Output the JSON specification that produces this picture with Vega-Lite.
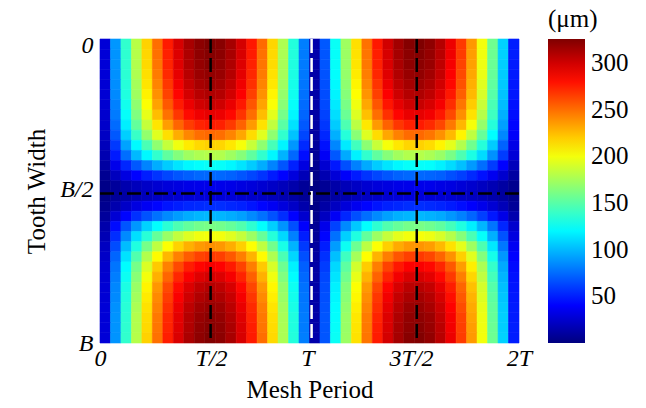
{"$schema":"https://vega.github.io/schema/vega-lite/v6.json","width":419,"height":304,"autosize":{"type":"none"},"padding":{"left":100,"top":39,"right":127,"bottom":65},"background":"white","config":{"font":"Liberation Serif","view":{"stroke":null},"legend":{"labelFont":"Liberation Serif","titleFont":"Liberation Serif"},"axis":{"labelFont":"Liberation Serif","titleFont":"Liberation Serif"}},
"layer":[
{"data":{"values":[
{"c":0,"r":0,"v":28},{"c":1,"r":0,"v":89},{"c":2,"r":0,"v":138},{"c":3,"r":0,"v":181},{"c":4,"r":0,"v":218},{"c":5,"r":0,"v":250},{"c":6,"r":0,"v":277},{"c":7,"r":0,"v":298},{"c":8,"r":0,"v":313},{"c":9,"r":0,"v":322},{"c":10,"r":0,"v":326},{"c":11,"r":0,"v":323},{"c":12,"r":0,"v":314},{"c":13,"r":0,"v":299},{"c":14,"r":0,"v":278},{"c":15,"r":0,"v":251},{"c":16,"r":0,"v":217},{"c":17,"r":0,"v":178},{"c":18,"r":0,"v":133},{"c":19,"r":0,"v":81},{"c":20,"r":0,"v":14},{"c":21,"r":0,"v":69},{"c":22,"r":0,"v":125},{"c":23,"r":0,"v":173},{"c":24,"r":0,"v":214},{"c":25,"r":0,"v":249},{"c":26,"r":0,"v":278},{"c":27,"r":0,"v":300},{"c":28,"r":0,"v":315},{"c":29,"r":0,"v":324},{"c":30,"r":0,"v":326},{"c":31,"r":0,"v":321},{"c":32,"r":0,"v":309},{"c":33,"r":0,"v":291},{"c":34,"r":0,"v":267},{"c":35,"r":0,"v":237},{"c":36,"r":0,"v":200},{"c":37,"r":0,"v":158},{"c":38,"r":0,"v":108},{"c":39,"r":0,"v":50},
{"c":0,"r":1,"v":28},{"c":1,"r":1,"v":88},{"c":2,"r":1,"v":137},{"c":3,"r":1,"v":180},{"c":4,"r":1,"v":217},{"c":5,"r":1,"v":249},{"c":6,"r":1,"v":275},{"c":7,"r":1,"v":296},{"c":8,"r":1,"v":311},{"c":9,"r":1,"v":321},{"c":10,"r":1,"v":324},{"c":11,"r":1,"v":322},{"c":12,"r":1,"v":313},{"c":13,"r":1,"v":298},{"c":14,"r":1,"v":277},{"c":15,"r":1,"v":249},{"c":16,"r":1,"v":216},{"c":17,"r":1,"v":177},{"c":18,"r":1,"v":133},{"c":19,"r":1,"v":80},{"c":20,"r":1,"v":14},{"c":21,"r":1,"v":68},{"c":22,"r":1,"v":124},{"c":23,"r":1,"v":172},{"c":24,"r":1,"v":213},{"c":25,"r":1,"v":248},{"c":26,"r":1,"v":276},{"c":27,"r":1,"v":298},{"c":28,"r":1,"v":314},{"c":29,"r":1,"v":322},{"c":30,"r":1,"v":324},{"c":31,"r":1,"v":319},{"c":32,"r":1,"v":308},{"c":33,"r":1,"v":290},{"c":34,"r":1,"v":266},{"c":35,"r":1,"v":235},{"c":36,"r":1,"v":199},{"c":37,"r":1,"v":157},{"c":38,"r":1,"v":108},{"c":39,"r":1,"v":50},
{"c":0,"r":2,"v":28},{"c":1,"r":2,"v":88},{"c":2,"r":2,"v":137},{"c":3,"r":2,"v":179},{"c":4,"r":2,"v":216},{"c":5,"r":2,"v":248},{"c":6,"r":2,"v":274},{"c":7,"r":2,"v":295},{"c":8,"r":2,"v":310},{"c":9,"r":2,"v":319},{"c":10,"r":2,"v":323},{"c":11,"r":2,"v":320},{"c":12,"r":2,"v":311},{"c":13,"r":2,"v":296},{"c":14,"r":2,"v":275},{"c":15,"r":2,"v":248},{"c":16,"r":2,"v":215},{"c":17,"r":2,"v":176},{"c":18,"r":2,"v":132},{"c":19,"r":2,"v":80},{"c":20,"r":2,"v":13},{"c":21,"r":2,"v":68},{"c":22,"r":2,"v":124},{"c":23,"r":2,"v":171},{"c":24,"r":2,"v":212},{"c":25,"r":2,"v":247},{"c":26,"r":2,"v":275},{"c":27,"r":2,"v":297},{"c":28,"r":2,"v":312},{"c":29,"r":2,"v":321},{"c":30,"r":2,"v":322},{"c":31,"r":2,"v":318},{"c":32,"r":2,"v":306},{"c":33,"r":2,"v":288},{"c":34,"r":2,"v":264},{"c":35,"r":2,"v":234},{"c":36,"r":2,"v":198},{"c":37,"r":2,"v":156},{"c":38,"r":2,"v":107},{"c":39,"r":2,"v":49},
{"c":0,"r":3,"v":28},{"c":1,"r":3,"v":87},{"c":2,"r":3,"v":136},{"c":3,"r":3,"v":178},{"c":4,"r":3,"v":214},{"c":5,"r":3,"v":246},{"c":6,"r":3,"v":272},{"c":7,"r":3,"v":293},{"c":8,"r":3,"v":308},{"c":9,"r":3,"v":317},{"c":10,"r":3,"v":320},{"c":11,"r":3,"v":318},{"c":12,"r":3,"v":309},{"c":13,"r":3,"v":294},{"c":14,"r":3,"v":273},{"c":15,"r":3,"v":246},{"c":16,"r":3,"v":213},{"c":17,"r":3,"v":175},{"c":18,"r":3,"v":131},{"c":19,"r":3,"v":79},{"c":20,"r":3,"v":13},{"c":21,"r":3,"v":67},{"c":22,"r":3,"v":123},{"c":23,"r":3,"v":170},{"c":24,"r":3,"v":210},{"c":25,"r":3,"v":245},{"c":26,"r":3,"v":273},{"c":27,"r":3,"v":295},{"c":28,"r":3,"v":310},{"c":29,"r":3,"v":318},{"c":30,"r":3,"v":320},{"c":31,"r":3,"v":315},{"c":32,"r":3,"v":304},{"c":33,"r":3,"v":286},{"c":34,"r":3,"v":262},{"c":35,"r":3,"v":232},{"c":36,"r":3,"v":197},{"c":37,"r":3,"v":155},{"c":38,"r":3,"v":106},{"c":39,"r":3,"v":49},
{"c":0,"r":4,"v":27},{"c":1,"r":4,"v":86},{"c":2,"r":4,"v":134},{"c":3,"r":4,"v":175},{"c":4,"r":4,"v":212},{"c":5,"r":4,"v":243},{"c":6,"r":4,"v":268},{"c":7,"r":4,"v":289},{"c":8,"r":4,"v":304},{"c":9,"r":4,"v":313},{"c":10,"r":4,"v":316},{"c":11,"r":4,"v":314},{"c":12,"r":4,"v":305},{"c":13,"r":4,"v":290},{"c":14,"r":4,"v":270},{"c":15,"r":4,"v":243},{"c":16,"r":4,"v":211},{"c":17,"r":4,"v":173},{"c":18,"r":4,"v":129},{"c":19,"r":4,"v":78},{"c":20,"r":4,"v":13},{"c":21,"r":4,"v":66},{"c":22,"r":4,"v":121},{"c":23,"r":4,"v":168},{"c":24,"r":4,"v":207},{"c":25,"r":4,"v":242},{"c":26,"r":4,"v":269},{"c":27,"r":4,"v":291},{"c":28,"r":4,"v":306},{"c":29,"r":4,"v":314},{"c":30,"r":4,"v":316},{"c":31,"r":4,"v":311},{"c":32,"r":4,"v":300},{"c":33,"r":4,"v":283},{"c":34,"r":4,"v":259},{"c":35,"r":4,"v":229},{"c":36,"r":4,"v":194},{"c":37,"r":4,"v":153},{"c":38,"r":4,"v":105},{"c":39,"r":4,"v":48},
{"c":0,"r":5,"v":27},{"c":1,"r":5,"v":85},{"c":2,"r":5,"v":132},{"c":3,"r":5,"v":173},{"c":4,"r":5,"v":208},{"c":5,"r":5,"v":239},{"c":6,"r":5,"v":264},{"c":7,"r":5,"v":284},{"c":8,"r":5,"v":299},{"c":9,"r":5,"v":308},{"c":10,"r":5,"v":311},{"c":11,"r":5,"v":309},{"c":12,"r":5,"v":300},{"c":13,"r":5,"v":286},{"c":14,"r":5,"v":265},{"c":15,"r":5,"v":239},{"c":16,"r":5,"v":207},{"c":17,"r":5,"v":170},{"c":18,"r":5,"v":127},{"c":19,"r":5,"v":77},{"c":20,"r":5,"v":13},{"c":21,"r":5,"v":65},{"c":22,"r":5,"v":119},{"c":23,"r":5,"v":165},{"c":24,"r":5,"v":204},{"c":25,"r":5,"v":238},{"c":26,"r":5,"v":265},{"c":27,"r":5,"v":286},{"c":28,"r":5,"v":301},{"c":29,"r":5,"v":309},{"c":30,"r":5,"v":311},{"c":31,"r":5,"v":306},{"c":32,"r":5,"v":295},{"c":33,"r":5,"v":278},{"c":34,"r":5,"v":255},{"c":35,"r":5,"v":226},{"c":36,"r":5,"v":191},{"c":37,"r":5,"v":150},{"c":38,"r":5,"v":103},{"c":39,"r":5,"v":48},
{"c":0,"r":6,"v":26},{"c":1,"r":6,"v":82},{"c":2,"r":6,"v":128},{"c":3,"r":6,"v":168},{"c":4,"r":6,"v":203},{"c":5,"r":6,"v":233},{"c":6,"r":6,"v":257},{"c":7,"r":6,"v":277},{"c":8,"r":6,"v":291},{"c":9,"r":6,"v":300},{"c":10,"r":6,"v":303},{"c":11,"r":6,"v":301},{"c":12,"r":6,"v":292},{"c":13,"r":6,"v":278},{"c":14,"r":6,"v":258},{"c":15,"r":6,"v":233},{"c":16,"r":6,"v":202},{"c":17,"r":6,"v":166},{"c":18,"r":6,"v":124},{"c":19,"r":6,"v":75},{"c":20,"r":6,"v":13},{"c":21,"r":6,"v":64},{"c":22,"r":6,"v":116},{"c":23,"r":6,"v":161},{"c":24,"r":6,"v":199},{"c":25,"r":6,"v":232},{"c":26,"r":6,"v":258},{"c":27,"r":6,"v":279},{"c":28,"r":6,"v":293},{"c":29,"r":6,"v":301},{"c":30,"r":6,"v":303},{"c":31,"r":6,"v":298},{"c":32,"r":6,"v":288},{"c":33,"r":6,"v":271},{"c":34,"r":6,"v":248},{"c":35,"r":6,"v":220},{"c":36,"r":6,"v":186},{"c":37,"r":6,"v":146},{"c":38,"r":6,"v":101},{"c":39,"r":6,"v":46},
{"c":0,"r":7,"v":25},{"c":1,"r":7,"v":80},{"c":2,"r":7,"v":124},{"c":3,"r":7,"v":163},{"c":4,"r":7,"v":196},{"c":5,"r":7,"v":225},{"c":6,"r":7,"v":249},{"c":7,"r":7,"v":268},{"c":8,"r":7,"v":282},{"c":9,"r":7,"v":290},{"c":10,"r":7,"v":293},{"c":11,"r":7,"v":291},{"c":12,"r":7,"v":283},{"c":13,"r":7,"v":269},{"c":14,"r":7,"v":250},{"c":15,"r":7,"v":225},{"c":16,"r":7,"v":195},{"c":17,"r":7,"v":160},{"c":18,"r":7,"v":120},{"c":19,"r":7,"v":73},{"c":20,"r":7,"v":12},{"c":21,"r":7,"v":62},{"c":22,"r":7,"v":112},{"c":23,"r":7,"v":156},{"c":24,"r":7,"v":193},{"c":25,"r":7,"v":224},{"c":26,"r":7,"v":250},{"c":27,"r":7,"v":270},{"c":28,"r":7,"v":284},{"c":29,"r":7,"v":292},{"c":30,"r":7,"v":293},{"c":31,"r":7,"v":289},{"c":32,"r":7,"v":278},{"c":33,"r":7,"v":262},{"c":34,"r":7,"v":240},{"c":35,"r":7,"v":213},{"c":36,"r":7,"v":180},{"c":37,"r":7,"v":142},{"c":38,"r":7,"v":97},{"c":39,"r":7,"v":45},
{"c":0,"r":8,"v":24},{"c":1,"r":8,"v":75},{"c":2,"r":8,"v":117},{"c":3,"r":8,"v":154},{"c":4,"r":8,"v":185},{"c":5,"r":8,"v":212},{"c":6,"r":8,"v":235},{"c":7,"r":8,"v":253},{"c":8,"r":8,"v":266},{"c":9,"r":8,"v":274},{"c":10,"r":8,"v":277},{"c":11,"r":8,"v":275},{"c":12,"r":8,"v":267},{"c":13,"r":8,"v":254},{"c":14,"r":8,"v":236},{"c":15,"r":8,"v":213},{"c":16,"r":8,"v":184},{"c":17,"r":8,"v":151},{"c":18,"r":8,"v":113},{"c":19,"r":8,"v":69},{"c":20,"r":8,"v":12},{"c":21,"r":8,"v":58},{"c":22,"r":8,"v":106},{"c":23,"r":8,"v":147},{"c":24,"r":8,"v":182},{"c":25,"r":8,"v":211},{"c":26,"r":8,"v":236},{"c":27,"r":8,"v":254},{"c":28,"r":8,"v":268},{"c":29,"r":8,"v":275},{"c":30,"r":8,"v":277},{"c":31,"r":8,"v":272},{"c":32,"r":8,"v":263},{"c":33,"r":8,"v":247},{"c":34,"r":8,"v":227},{"c":35,"r":8,"v":201},{"c":36,"r":8,"v":170},{"c":37,"r":8,"v":134},{"c":38,"r":8,"v":92},{"c":39,"r":8,"v":42},
{"c":0,"r":9,"v":22},{"c":1,"r":9,"v":69},{"c":2,"r":9,"v":107},{"c":3,"r":9,"v":140},{"c":4,"r":9,"v":169},{"c":5,"r":9,"v":194},{"c":6,"r":9,"v":214},{"c":7,"r":9,"v":230},{"c":8,"r":9,"v":242},{"c":9,"r":9,"v":250},{"c":10,"r":9,"v":252},{"c":11,"r":9,"v":250},{"c":12,"r":9,"v":243},{"c":13,"r":9,"v":232},{"c":14,"r":9,"v":215},{"c":15,"r":9,"v":194},{"c":16,"r":9,"v":168},{"c":17,"r":9,"v":138},{"c":18,"r":9,"v":103},{"c":19,"r":9,"v":63},{"c":20,"r":9,"v":11},{"c":21,"r":9,"v":53},{"c":22,"r":9,"v":97},{"c":23,"r":9,"v":134},{"c":24,"r":9,"v":166},{"c":25,"r":9,"v":193},{"c":26,"r":9,"v":215},{"c":27,"r":9,"v":232},{"c":28,"r":9,"v":244},{"c":29,"r":9,"v":251},{"c":30,"r":9,"v":252},{"c":31,"r":9,"v":248},{"c":32,"r":9,"v":239},{"c":33,"r":9,"v":226},{"c":34,"r":9,"v":207},{"c":35,"r":9,"v":183},{"c":36,"r":9,"v":155},{"c":37,"r":9,"v":122},{"c":38,"r":9,"v":84},{"c":39,"r":9,"v":39},
{"c":0,"r":10,"v":19},{"c":1,"r":10,"v":59},{"c":2,"r":10,"v":93},{"c":3,"r":10,"v":121},{"c":4,"r":10,"v":146},{"c":5,"r":10,"v":168},{"c":6,"r":10,"v":185},{"c":7,"r":10,"v":199},{"c":8,"r":10,"v":210},{"c":9,"r":10,"v":216},{"c":10,"r":10,"v":218},{"c":11,"r":10,"v":217},{"c":12,"r":10,"v":211},{"c":13,"r":10,"v":201},{"c":14,"r":10,"v":186},{"c":15,"r":10,"v":168},{"c":16,"r":10,"v":145},{"c":17,"r":10,"v":119},{"c":18,"r":10,"v":89},{"c":19,"r":10,"v":54},{"c":20,"r":10,"v":9},{"c":21,"r":10,"v":46},{"c":22,"r":10,"v":84},{"c":23,"r":10,"v":116},{"c":24,"r":10,"v":143},{"c":25,"r":10,"v":167},{"c":26,"r":10,"v":186},{"c":27,"r":10,"v":201},{"c":28,"r":10,"v":211},{"c":29,"r":10,"v":217},{"c":30,"r":10,"v":218},{"c":31,"r":10,"v":215},{"c":32,"r":10,"v":207},{"c":33,"r":10,"v":195},{"c":34,"r":10,"v":179},{"c":35,"r":10,"v":158},{"c":36,"r":10,"v":134},{"c":37,"r":10,"v":106},{"c":38,"r":10,"v":72},{"c":39,"r":10,"v":33},
{"c":0,"r":11,"v":16},{"c":1,"r":11,"v":49},{"c":2,"r":11,"v":76},{"c":3,"r":11,"v":100},{"c":4,"r":11,"v":120},{"c":5,"r":11,"v":138},{"c":6,"r":11,"v":153},{"c":7,"r":11,"v":164},{"c":8,"r":11,"v":173},{"c":9,"r":11,"v":178},{"c":10,"r":11,"v":180},{"c":11,"r":11,"v":179},{"c":12,"r":11,"v":173},{"c":13,"r":11,"v":165},{"c":14,"r":11,"v":153},{"c":15,"r":11,"v":138},{"c":16,"r":11,"v":120},{"c":17,"r":11,"v":98},{"c":18,"r":11,"v":74},{"c":19,"r":11,"v":45},{"c":20,"r":11,"v":8},{"c":21,"r":11,"v":38},{"c":22,"r":11,"v":69},{"c":23,"r":11,"v":95},{"c":24,"r":11,"v":118},{"c":25,"r":11,"v":138},{"c":26,"r":11,"v":153},{"c":27,"r":11,"v":165},{"c":28,"r":11,"v":174},{"c":29,"r":11,"v":179},{"c":30,"r":11,"v":180},{"c":31,"r":11,"v":177},{"c":32,"r":11,"v":171},{"c":33,"r":11,"v":161},{"c":34,"r":11,"v":147},{"c":35,"r":11,"v":131},{"c":36,"r":11,"v":111},{"c":37,"r":11,"v":87},{"c":38,"r":11,"v":60},{"c":39,"r":11,"v":28},
{"c":0,"r":12,"v":11},{"c":1,"r":12,"v":34},{"c":2,"r":12,"v":53},{"c":3,"r":12,"v":69},{"c":4,"r":12,"v":83},{"c":5,"r":12,"v":96},{"c":6,"r":12,"v":106},{"c":7,"r":12,"v":114},{"c":8,"r":12,"v":120},{"c":9,"r":12,"v":123},{"c":10,"r":12,"v":125},{"c":11,"r":12,"v":124},{"c":12,"r":12,"v":120},{"c":13,"r":12,"v":114},{"c":14,"r":12,"v":106},{"c":15,"r":12,"v":96},{"c":16,"r":12,"v":83},{"c":17,"r":12,"v":68},{"c":18,"r":12,"v":51},{"c":19,"r":12,"v":31},{"c":20,"r":12,"v":5},{"c":21,"r":12,"v":26},{"c":22,"r":12,"v":48},{"c":23,"r":12,"v":66},{"c":24,"r":12,"v":82},{"c":25,"r":12,"v":95},{"c":26,"r":12,"v":106},{"c":27,"r":12,"v":114},{"c":28,"r":12,"v":120},{"c":29,"r":12,"v":124},{"c":30,"r":12,"v":124},{"c":31,"r":12,"v":123},{"c":32,"r":12,"v":118},{"c":33,"r":12,"v":111},{"c":34,"r":12,"v":102},{"c":35,"r":12,"v":90},{"c":36,"r":12,"v":76},{"c":37,"r":12,"v":60},{"c":38,"r":12,"v":41},{"c":39,"r":12,"v":19},
{"c":0,"r":13,"v":6},{"c":1,"r":13,"v":20},{"c":2,"r":13,"v":31},{"c":3,"r":13,"v":41},{"c":4,"r":13,"v":50},{"c":5,"r":13,"v":57},{"c":6,"r":13,"v":63},{"c":7,"r":13,"v":68},{"c":8,"r":13,"v":71},{"c":9,"r":13,"v":74},{"c":10,"r":13,"v":74},{"c":11,"r":13,"v":74},{"c":12,"r":13,"v":72},{"c":13,"r":13,"v":68},{"c":14,"r":13,"v":63},{"c":15,"r":13,"v":57},{"c":16,"r":13,"v":49},{"c":17,"r":13,"v":41},{"c":18,"r":13,"v":30},{"c":19,"r":13,"v":18},{"c":20,"r":13,"v":3},{"c":21,"r":13,"v":16},{"c":22,"r":13,"v":28},{"c":23,"r":13,"v":39},{"c":24,"r":13,"v":49},{"c":25,"r":13,"v":57},{"c":26,"r":13,"v":63},{"c":27,"r":13,"v":68},{"c":28,"r":13,"v":72},{"c":29,"r":13,"v":74},{"c":30,"r":13,"v":74},{"c":31,"r":13,"v":73},{"c":32,"r":13,"v":71},{"c":33,"r":13,"v":66},{"c":34,"r":13,"v":61},{"c":35,"r":13,"v":54},{"c":36,"r":13,"v":46},{"c":37,"r":13,"v":36},{"c":38,"r":13,"v":25},{"c":39,"r":13,"v":11},
{"c":0,"r":14,"v":3},{"c":1,"r":14,"v":9},{"c":2,"r":14,"v":15},{"c":3,"r":14,"v":19},{"c":4,"r":14,"v":23},{"c":5,"r":14,"v":26},{"c":6,"r":14,"v":29},{"c":7,"r":14,"v":31},{"c":8,"r":14,"v":33},{"c":9,"r":14,"v":34},{"c":10,"r":14,"v":34},{"c":11,"r":14,"v":34},{"c":12,"r":14,"v":33},{"c":13,"r":14,"v":31},{"c":14,"r":14,"v":29},{"c":15,"r":14,"v":26},{"c":16,"r":14,"v":23},{"c":17,"r":14,"v":19},{"c":18,"r":14,"v":14},{"c":19,"r":14,"v":8},{"c":20,"r":14,"v":1},{"c":21,"r":14,"v":7},{"c":22,"r":14,"v":13},{"c":23,"r":14,"v":18},{"c":24,"r":14,"v":22},{"c":25,"r":14,"v":26},{"c":26,"r":14,"v":29},{"c":27,"r":14,"v":31},{"c":28,"r":14,"v":33},{"c":29,"r":14,"v":34},{"c":30,"r":14,"v":34},{"c":31,"r":14,"v":34},{"c":32,"r":14,"v":32},{"c":33,"r":14,"v":31},{"c":34,"r":14,"v":28},{"c":35,"r":14,"v":25},{"c":36,"r":14,"v":21},{"c":37,"r":14,"v":17},{"c":38,"r":14,"v":11},{"c":39,"r":14,"v":5},
{"c":0,"r":15,"v":2},{"c":1,"r":15,"v":8},{"c":2,"r":15,"v":12},{"c":3,"r":15,"v":16},{"c":4,"r":15,"v":19},{"c":5,"r":15,"v":22},{"c":6,"r":15,"v":24},{"c":7,"r":15,"v":26},{"c":8,"r":15,"v":28},{"c":9,"r":15,"v":28},{"c":10,"r":15,"v":29},{"c":11,"r":15,"v":28},{"c":12,"r":15,"v":28},{"c":13,"r":15,"v":26},{"c":14,"r":15,"v":24},{"c":15,"r":15,"v":22},{"c":16,"r":15,"v":19},{"c":17,"r":15,"v":16},{"c":18,"r":15,"v":12},{"c":19,"r":15,"v":7},{"c":20,"r":15,"v":1},{"c":21,"r":15,"v":6},{"c":22,"r":15,"v":11},{"c":23,"r":15,"v":15},{"c":24,"r":15,"v":19},{"c":25,"r":15,"v":22},{"c":26,"r":15,"v":24},{"c":27,"r":15,"v":26},{"c":28,"r":15,"v":28},{"c":29,"r":15,"v":29},{"c":30,"r":15,"v":29},{"c":31,"r":15,"v":28},{"c":32,"r":15,"v":27},{"c":33,"r":15,"v":26},{"c":34,"r":15,"v":23},{"c":35,"r":15,"v":21},{"c":36,"r":15,"v":18},{"c":37,"r":15,"v":14},{"c":38,"r":15,"v":10},{"c":39,"r":15,"v":4},
{"c":0,"r":16,"v":5},{"c":1,"r":16,"v":15},{"c":2,"r":16,"v":23},{"c":3,"r":16,"v":31},{"c":4,"r":16,"v":37},{"c":5,"r":16,"v":42},{"c":6,"r":16,"v":47},{"c":7,"r":16,"v":50},{"c":8,"r":16,"v":53},{"c":9,"r":16,"v":54},{"c":10,"r":16,"v":55},{"c":11,"r":16,"v":55},{"c":12,"r":16,"v":53},{"c":13,"r":16,"v":51},{"c":14,"r":16,"v":47},{"c":15,"r":16,"v":42},{"c":16,"r":16,"v":37},{"c":17,"r":16,"v":30},{"c":18,"r":16,"v":23},{"c":19,"r":16,"v":14},{"c":20,"r":16,"v":2},{"c":21,"r":16,"v":12},{"c":22,"r":16,"v":21},{"c":23,"r":16,"v":29},{"c":24,"r":16,"v":36},{"c":25,"r":16,"v":42},{"c":26,"r":16,"v":47},{"c":27,"r":16,"v":51},{"c":28,"r":16,"v":53},{"c":29,"r":16,"v":55},{"c":30,"r":16,"v":55},{"c":31,"r":16,"v":54},{"c":32,"r":16,"v":52},{"c":33,"r":16,"v":49},{"c":34,"r":16,"v":45},{"c":35,"r":16,"v":40},{"c":36,"r":16,"v":34},{"c":37,"r":16,"v":27},{"c":38,"r":16,"v":18},{"c":39,"r":16,"v":8},
{"c":0,"r":17,"v":9},{"c":1,"r":17,"v":27},{"c":2,"r":17,"v":42},{"c":3,"r":17,"v":56},{"c":4,"r":17,"v":67},{"c":5,"r":17,"v":77},{"c":6,"r":17,"v":85},{"c":7,"r":17,"v":91},{"c":8,"r":17,"v":96},{"c":9,"r":17,"v":99},{"c":10,"r":17,"v":100},{"c":11,"r":17,"v":99},{"c":12,"r":17,"v":96},{"c":13,"r":17,"v":92},{"c":14,"r":17,"v":85},{"c":15,"r":17,"v":77},{"c":16,"r":17,"v":67},{"c":17,"r":17,"v":55},{"c":18,"r":17,"v":41},{"c":19,"r":17,"v":25},{"c":20,"r":17,"v":4},{"c":21,"r":17,"v":21},{"c":22,"r":17,"v":38},{"c":23,"r":17,"v":53},{"c":24,"r":17,"v":66},{"c":25,"r":17,"v":76},{"c":26,"r":17,"v":85},{"c":27,"r":17,"v":92},{"c":28,"r":17,"v":97},{"c":29,"r":17,"v":99},{"c":30,"r":17,"v":100},{"c":31,"r":17,"v":98},{"c":32,"r":17,"v":95},{"c":33,"r":17,"v":89},{"c":34,"r":17,"v":82},{"c":35,"r":17,"v":73},{"c":36,"r":17,"v":61},{"c":37,"r":17,"v":48},{"c":38,"r":17,"v":33},{"c":39,"r":17,"v":15},
{"c":0,"r":18,"v":14},{"c":1,"r":18,"v":44},{"c":2,"r":18,"v":68},{"c":3,"r":18,"v":89},{"c":4,"r":18,"v":108},{"c":5,"r":18,"v":123},{"c":6,"r":18,"v":136},{"c":7,"r":18,"v":147},{"c":8,"r":18,"v":154},{"c":9,"r":18,"v":159},{"c":10,"r":18,"v":161},{"c":11,"r":18,"v":159},{"c":12,"r":18,"v":155},{"c":13,"r":18,"v":148},{"c":14,"r":18,"v":137},{"c":15,"r":18,"v":123},{"c":16,"r":18,"v":107},{"c":17,"r":18,"v":88},{"c":18,"r":18,"v":66},{"c":19,"r":18,"v":40},{"c":20,"r":18,"v":7},{"c":21,"r":18,"v":34},{"c":22,"r":18,"v":62},{"c":23,"r":18,"v":85},{"c":24,"r":18,"v":105},{"c":25,"r":18,"v":123},{"c":26,"r":18,"v":137},{"c":27,"r":18,"v":148},{"c":28,"r":18,"v":155},{"c":29,"r":18,"v":160},{"c":30,"r":18,"v":161},{"c":31,"r":18,"v":158},{"c":32,"r":18,"v":153},{"c":33,"r":18,"v":144},{"c":34,"r":18,"v":132},{"c":35,"r":18,"v":117},{"c":36,"r":18,"v":99},{"c":37,"r":18,"v":78},{"c":38,"r":18,"v":53},{"c":39,"r":18,"v":25},
{"c":0,"r":19,"v":17},{"c":1,"r":19,"v":55},{"c":2,"r":19,"v":85},{"c":3,"r":19,"v":112},{"c":4,"r":19,"v":135},{"c":5,"r":19,"v":155},{"c":6,"r":19,"v":171},{"c":7,"r":19,"v":184},{"c":8,"r":19,"v":193},{"c":9,"r":19,"v":199},{"c":10,"r":19,"v":201},{"c":11,"r":19,"v":200},{"c":12,"r":19,"v":194},{"c":13,"r":19,"v":185},{"c":14,"r":19,"v":172},{"c":15,"r":19,"v":155},{"c":16,"r":19,"v":134},{"c":17,"r":19,"v":110},{"c":18,"r":19,"v":82},{"c":19,"r":19,"v":50},{"c":20,"r":19,"v":8},{"c":21,"r":19,"v":42},{"c":22,"r":19,"v":77},{"c":23,"r":19,"v":107},{"c":24,"r":19,"v":132},{"c":25,"r":19,"v":154},{"c":26,"r":19,"v":172},{"c":27,"r":19,"v":185},{"c":28,"r":19,"v":195},{"c":29,"r":19,"v":200},{"c":30,"r":19,"v":201},{"c":31,"r":19,"v":198},{"c":32,"r":19,"v":191},{"c":33,"r":19,"v":180},{"c":34,"r":19,"v":165},{"c":35,"r":19,"v":146},{"c":36,"r":19,"v":124},{"c":37,"r":19,"v":97},{"c":38,"r":19,"v":67},{"c":39,"r":19,"v":31},
{"c":0,"r":20,"v":21},{"c":1,"r":20,"v":65},{"c":2,"r":20,"v":101},{"c":3,"r":20,"v":132},{"c":4,"r":20,"v":160},{"c":5,"r":20,"v":183},{"c":6,"r":20,"v":203},{"c":7,"r":20,"v":218},{"c":8,"r":20,"v":229},{"c":9,"r":20,"v":236},{"c":10,"r":20,"v":239},{"c":11,"r":20,"v":237},{"c":12,"r":20,"v":230},{"c":13,"r":20,"v":219},{"c":14,"r":20,"v":203},{"c":15,"r":20,"v":183},{"c":16,"r":20,"v":159},{"c":17,"r":20,"v":130},{"c":18,"r":20,"v":98},{"c":19,"r":20,"v":59},{"c":20,"r":20,"v":10},{"c":21,"r":20,"v":50},{"c":22,"r":20,"v":91},{"c":23,"r":20,"v":126},{"c":24,"r":20,"v":157},{"c":25,"r":20,"v":182},{"c":26,"r":20,"v":203},{"c":27,"r":20,"v":219},{"c":28,"r":20,"v":231},{"c":29,"r":20,"v":237},{"c":30,"r":20,"v":238},{"c":31,"r":20,"v":235},{"c":32,"r":20,"v":226},{"c":33,"r":20,"v":213},{"c":34,"r":20,"v":195},{"c":35,"r":20,"v":173},{"c":36,"r":20,"v":147},{"c":37,"r":20,"v":115},{"c":38,"r":20,"v":79},{"c":39,"r":20,"v":37},
{"c":0,"r":21,"v":23},{"c":1,"r":21,"v":73},{"c":2,"r":21,"v":113},{"c":3,"r":21,"v":148},{"c":4,"r":21,"v":179},{"c":5,"r":21,"v":205},{"c":6,"r":21,"v":227},{"c":7,"r":21,"v":244},{"c":8,"r":21,"v":256},{"c":9,"r":21,"v":264},{"c":10,"r":21,"v":267},{"c":11,"r":21,"v":265},{"c":12,"r":21,"v":257},{"c":13,"r":21,"v":245},{"c":14,"r":21,"v":228},{"c":15,"r":21,"v":205},{"c":16,"r":21,"v":178},{"c":17,"r":21,"v":146},{"c":18,"r":21,"v":109},{"c":19,"r":21,"v":66},{"c":20,"r":21,"v":11},{"c":21,"r":21,"v":56},{"c":22,"r":21,"v":102},{"c":23,"r":21,"v":142},{"c":24,"r":21,"v":175},{"c":25,"r":21,"v":204},{"c":26,"r":21,"v":228},{"c":27,"r":21,"v":245},{"c":28,"r":21,"v":258},{"c":29,"r":21,"v":265},{"c":30,"r":21,"v":267},{"c":31,"r":21,"v":263},{"c":32,"r":21,"v":253},{"c":33,"r":21,"v":239},{"c":34,"r":21,"v":219},{"c":35,"r":21,"v":194},{"c":36,"r":21,"v":164},{"c":37,"r":21,"v":129},{"c":38,"r":21,"v":89},{"c":39,"r":21,"v":41},
{"c":0,"r":22,"v":25},{"c":1,"r":22,"v":78},{"c":2,"r":22,"v":122},{"c":3,"r":22,"v":160},{"c":4,"r":22,"v":192},{"c":5,"r":22,"v":221},{"c":6,"r":22,"v":244},{"c":7,"r":22,"v":262},{"c":8,"r":22,"v":276},{"c":9,"r":22,"v":284},{"c":10,"r":22,"v":288},{"c":11,"r":22,"v":285},{"c":12,"r":22,"v":277},{"c":13,"r":22,"v":264},{"c":14,"r":22,"v":245},{"c":15,"r":22,"v":221},{"c":16,"r":22,"v":191},{"c":17,"r":22,"v":157},{"c":18,"r":22,"v":118},{"c":19,"r":22,"v":71},{"c":20,"r":22,"v":12},{"c":21,"r":22,"v":60},{"c":22,"r":22,"v":110},{"c":23,"r":22,"v":152},{"c":24,"r":22,"v":189},{"c":25,"r":22,"v":220},{"c":26,"r":22,"v":245},{"c":27,"r":22,"v":264},{"c":28,"r":22,"v":278},{"c":29,"r":22,"v":286},{"c":30,"r":22,"v":287},{"c":31,"r":22,"v":283},{"c":32,"r":22,"v":273},{"c":33,"r":22,"v":257},{"c":34,"r":22,"v":235},{"c":35,"r":22,"v":209},{"c":36,"r":22,"v":177},{"c":37,"r":22,"v":139},{"c":38,"r":22,"v":95},{"c":39,"r":22,"v":44},
{"c":0,"r":23,"v":26},{"c":1,"r":23,"v":81},{"c":2,"r":23,"v":126},{"c":3,"r":23,"v":166},{"c":4,"r":23,"v":200},{"c":5,"r":23,"v":229},{"c":6,"r":23,"v":253},{"c":7,"r":23,"v":273},{"c":8,"r":23,"v":287},{"c":9,"r":23,"v":295},{"c":10,"r":23,"v":299},{"c":11,"r":23,"v":296},{"c":12,"r":23,"v":288},{"c":13,"r":23,"v":274},{"c":14,"r":23,"v":255},{"c":15,"r":23,"v":229},{"c":16,"r":23,"v":199},{"c":17,"r":23,"v":163},{"c":18,"r":23,"v":122},{"c":19,"r":23,"v":74},{"c":20,"r":23,"v":12},{"c":21,"r":23,"v":63},{"c":22,"r":23,"v":114},{"c":23,"r":23,"v":158},{"c":24,"r":23,"v":196},{"c":25,"r":23,"v":228},{"c":26,"r":23,"v":254},{"c":27,"r":23,"v":274},{"c":28,"r":23,"v":289},{"c":29,"r":23,"v":297},{"c":30,"r":23,"v":298},{"c":31,"r":23,"v":294},{"c":32,"r":23,"v":283},{"c":33,"r":23,"v":267},{"c":34,"r":23,"v":245},{"c":35,"r":23,"v":217},{"c":36,"r":23,"v":183},{"c":37,"r":23,"v":144},{"c":38,"r":23,"v":99},{"c":39,"r":23,"v":46},
{"c":0,"r":24,"v":27},{"c":1,"r":24,"v":84},{"c":2,"r":24,"v":131},{"c":3,"r":24,"v":171},{"c":4,"r":24,"v":207},{"c":5,"r":24,"v":237},{"c":6,"r":24,"v":262},{"c":7,"r":24,"v":282},{"c":8,"r":24,"v":296},{"c":9,"r":24,"v":305},{"c":10,"r":24,"v":309},{"c":11,"r":24,"v":306},{"c":12,"r":24,"v":298},{"c":13,"r":24,"v":283},{"c":14,"r":24,"v":263},{"c":15,"r":24,"v":237},{"c":16,"r":24,"v":206},{"c":17,"r":24,"v":169},{"c":18,"r":24,"v":126},{"c":19,"r":24,"v":77},{"c":20,"r":24,"v":13},{"c":21,"r":24,"v":65},{"c":22,"r":24,"v":118},{"c":23,"r":24,"v":164},{"c":24,"r":24,"v":203},{"c":25,"r":24,"v":236},{"c":26,"r":24,"v":263},{"c":27,"r":24,"v":284},{"c":28,"r":24,"v":298},{"c":29,"r":24,"v":307},{"c":30,"r":24,"v":308},{"c":31,"r":24,"v":304},{"c":32,"r":24,"v":293},{"c":33,"r":24,"v":276},{"c":34,"r":24,"v":253},{"c":35,"r":24,"v":224},{"c":36,"r":24,"v":190},{"c":37,"r":24,"v":149},{"c":38,"r":24,"v":102},{"c":39,"r":24,"v":47},
{"c":0,"r":25,"v":27},{"c":1,"r":25,"v":85},{"c":2,"r":25,"v":133},{"c":3,"r":25,"v":174},{"c":4,"r":25,"v":210},{"c":5,"r":25,"v":241},{"c":6,"r":25,"v":266},{"c":7,"r":25,"v":287},{"c":8,"r":25,"v":301},{"c":9,"r":25,"v":310},{"c":10,"r":25,"v":314},{"c":11,"r":25,"v":311},{"c":12,"r":25,"v":303},{"c":13,"r":25,"v":288},{"c":14,"r":25,"v":268},{"c":15,"r":25,"v":241},{"c":16,"r":25,"v":209},{"c":17,"r":25,"v":171},{"c":18,"r":25,"v":128},{"c":19,"r":25,"v":78},{"c":20,"r":25,"v":13},{"c":21,"r":25,"v":66},{"c":22,"r":25,"v":120},{"c":23,"r":25,"v":166},{"c":24,"r":25,"v":206},{"c":25,"r":25,"v":240},{"c":26,"r":25,"v":268},{"c":27,"r":25,"v":289},{"c":28,"r":25,"v":304},{"c":29,"r":25,"v":312},{"c":30,"r":25,"v":314},{"c":31,"r":25,"v":309},{"c":32,"r":25,"v":298},{"c":33,"r":25,"v":281},{"c":34,"r":25,"v":257},{"c":35,"r":25,"v":228},{"c":36,"r":25,"v":193},{"c":37,"r":25,"v":152},{"c":38,"r":25,"v":104},{"c":39,"r":25,"v":48},
{"c":0,"r":26,"v":28},{"c":1,"r":26,"v":87},{"c":2,"r":26,"v":135},{"c":3,"r":26,"v":177},{"c":4,"r":26,"v":213},{"c":5,"r":26,"v":244},{"c":6,"r":26,"v":270},{"c":7,"r":26,"v":291},{"c":8,"r":26,"v":306},{"c":9,"r":26,"v":315},{"c":10,"r":26,"v":318},{"c":11,"r":26,"v":316},{"c":12,"r":26,"v":307},{"c":13,"r":26,"v":292},{"c":14,"r":26,"v":272},{"c":15,"r":26,"v":245},{"c":16,"r":26,"v":212},{"c":17,"r":26,"v":174},{"c":18,"r":26,"v":130},{"c":19,"r":26,"v":79},{"c":20,"r":26,"v":13},{"c":21,"r":26,"v":67},{"c":22,"r":26,"v":122},{"c":23,"r":26,"v":169},{"c":24,"r":26,"v":209},{"c":25,"r":26,"v":243},{"c":26,"r":26,"v":271},{"c":27,"r":26,"v":293},{"c":28,"r":26,"v":308},{"c":29,"r":26,"v":317},{"c":30,"r":26,"v":318},{"c":31,"r":26,"v":313},{"c":32,"r":26,"v":302},{"c":33,"r":26,"v":285},{"c":34,"r":26,"v":261},{"c":35,"r":26,"v":231},{"c":36,"r":26,"v":196},{"c":37,"r":26,"v":154},{"c":38,"r":26,"v":106},{"c":39,"r":26,"v":49},
{"c":0,"r":27,"v":28},{"c":1,"r":27,"v":88},{"c":2,"r":27,"v":136},{"c":3,"r":27,"v":179},{"c":4,"r":27,"v":215},{"c":5,"r":27,"v":247},{"c":6,"r":27,"v":273},{"c":7,"r":27,"v":294},{"c":8,"r":27,"v":309},{"c":9,"r":27,"v":318},{"c":10,"r":27,"v":322},{"c":11,"r":27,"v":319},{"c":12,"r":27,"v":310},{"c":13,"r":27,"v":295},{"c":14,"r":27,"v":274},{"c":15,"r":27,"v":247},{"c":16,"r":27,"v":214},{"c":17,"r":27,"v":176},{"c":18,"r":27,"v":132},{"c":19,"r":27,"v":80},{"c":20,"r":27,"v":13},{"c":21,"r":27,"v":68},{"c":22,"r":27,"v":123},{"c":23,"r":27,"v":171},{"c":24,"r":27,"v":211},{"c":25,"r":27,"v":246},{"c":26,"r":27,"v":274},{"c":27,"r":27,"v":296},{"c":28,"r":27,"v":311},{"c":29,"r":27,"v":320},{"c":30,"r":27,"v":321},{"c":31,"r":27,"v":317},{"c":32,"r":27,"v":305},{"c":33,"r":27,"v":288},{"c":34,"r":27,"v":264},{"c":35,"r":27,"v":233},{"c":36,"r":27,"v":198},{"c":37,"r":27,"v":155},{"c":38,"r":27,"v":107},{"c":39,"r":27,"v":49},
{"c":0,"r":28,"v":28},{"c":1,"r":28,"v":88},{"c":2,"r":28,"v":137},{"c":3,"r":28,"v":179},{"c":4,"r":28,"v":216},{"c":5,"r":28,"v":248},{"c":6,"r":28,"v":274},{"c":7,"r":28,"v":295},{"c":8,"r":28,"v":310},{"c":9,"r":28,"v":320},{"c":10,"r":28,"v":323},{"c":11,"r":28,"v":321},{"c":12,"r":28,"v":312},{"c":13,"r":28,"v":297},{"c":14,"r":28,"v":276},{"c":15,"r":28,"v":248},{"c":16,"r":28,"v":215},{"c":17,"r":28,"v":177},{"c":18,"r":28,"v":132},{"c":19,"r":28,"v":80},{"c":20,"r":28,"v":13},{"c":21,"r":28,"v":68},{"c":22,"r":28,"v":124},{"c":23,"r":28,"v":171},{"c":24,"r":28,"v":212},{"c":25,"r":28,"v":247},{"c":26,"r":28,"v":276},{"c":27,"r":28,"v":297},{"c":28,"r":28,"v":313},{"c":29,"r":28,"v":321},{"c":30,"r":28,"v":323},{"c":31,"r":28,"v":318},{"c":32,"r":28,"v":307},{"c":33,"r":28,"v":289},{"c":34,"r":28,"v":265},{"c":35,"r":28,"v":235},{"c":36,"r":28,"v":199},{"c":37,"r":28,"v":156},{"c":38,"r":28,"v":107},{"c":39,"r":28,"v":50},
{"c":0,"r":29,"v":28},{"c":1,"r":29,"v":88},{"c":2,"r":29,"v":138},{"c":3,"r":29,"v":180},{"c":4,"r":29,"v":218},{"c":5,"r":29,"v":249},{"c":6,"r":29,"v":276},{"c":7,"r":29,"v":297},{"c":8,"r":29,"v":312},{"c":9,"r":29,"v":321},{"c":10,"r":29,"v":325},{"c":11,"r":29,"v":322},{"c":12,"r":29,"v":313},{"c":13,"r":29,"v":298},{"c":14,"r":29,"v":277},{"c":15,"r":29,"v":250},{"c":16,"r":29,"v":216},{"c":17,"r":29,"v":177},{"c":18,"r":29,"v":133},{"c":19,"r":29,"v":81},{"c":20,"r":29,"v":14},{"c":21,"r":29,"v":68},{"c":22,"r":29,"v":125},{"c":23,"r":29,"v":172},{"c":24,"r":29,"v":213},{"c":25,"r":29,"v":248},{"c":26,"r":29,"v":277},{"c":27,"r":29,"v":299},{"c":28,"r":29,"v":314},{"c":29,"r":29,"v":323},{"c":30,"r":29,"v":325},{"c":31,"r":29,"v":320},{"c":32,"r":29,"v":308},{"c":33,"r":29,"v":291},{"c":34,"r":29,"v":266},{"c":35,"r":29,"v":236},{"c":36,"r":29,"v":200},{"c":37,"r":29,"v":157},{"c":38,"r":29,"v":108},{"c":39,"r":29,"v":50}
]},
"mark":{"type":"rect","strokeWidth":0.6,"stroke":{"expr":"scale('color', datum.v)"}},
"encoding":{
"x":{"field":"c","type":"ordinal","axis":null,"scale":{"paddingInner":0,"paddingOuter":0}},
"y":{"field":"r","type":"ordinal","axis":null,"scale":{"paddingInner":0,"paddingOuter":0}},
"color":{"field":"v","type":"quantitative","scale":{"type":"linear","domain":[0,40.75,122.25,203.75,285.25,326],"range":["#00007f","#0000ff","#00ffff","#ffff00","#ff0000","#7f0000"],"interpolate":"rgb","nice":false,"zero":false},
"legend":{"type":"gradient","orient":"none","legendX":448,"legendY":-32,"direction":"vertical","gradientLength":304,"gradientThickness":37,"gradientStrokeWidth":0,"values":[50,100,150,200,250,300],"title":"(μm)","titleFont":"Liberation Serif","titleFontSize":25,"titleFontWeight":"normal","titleColor":"black","titleAnchor":"start","titleAlign":"left","titlePadding":7,"labelFont":"Liberation Serif","labelFontSize":25,"labelColor":"black","labelOffset":6,"labelOverlap":false,"padding":0}}
}},
{"data":{"values":[{}]},
"layer":[
{"mark":{"type":"rule","color":"black","strokeWidth":2.5,"strokeDash":[14,5]},
"encoding":{"x":{"datum":0.528,"type":"quantitative","scale":{"domain":[0,2],"nice":false,"zero":false},
"axis":{"orient":"bottom","values":[0,0.53,0.99,1.485,2],"labelExpr":"datum.value==0?'0':datum.value<0.7?'T/2':datum.value<1.2?'T':datum.value<1.7?'3T/2':'2T'","title":"Mesh Period","domain":false,"ticks":false,"tickSize":0,"grid":false,"labelFont":"Liberation Serif","labelFontSize":24,"labelFontStyle":"italic","labelColor":"black","labelPadding":3,"labelFlush":false,"labelOverlap":false,"titleFont":"Liberation Serif","titleFontSize":25,"titleFontWeight":"normal","titleColor":"black","titlePadding":7}}}},
{"mark":{"type":"rule","color":"white","strokeWidth":2.5,"strokeDash":[14,5]},
"encoding":{"x":{"datum":1.01,"type":"quantitative"}}},
{"mark":{"type":"rule","color":"black","strokeWidth":2.5,"strokeDash":[14,5]},
"encoding":{"x":{"datum":1.512,"type":"quantitative"}}},
{"mark":{"type":"rule","color":"black","strokeWidth":2.5,"strokeDash":[14,5,3,5]},
"encoding":{"y":{"datum":0.508,"type":"quantitative","scale":{"domain":[0,1],"reverse":true,"nice":false,"zero":false},
"axis":{"orient":"left","values":[0,0.508,1],"labelExpr":"datum.value==0?'0':datum.value<0.8?'B/2':'B'","title":"Tooth Width","domain":false,"ticks":false,"tickSize":0,"grid":false,"labelFont":"Liberation Serif","labelFontSize":24,"labelFontStyle":"italic","labelColor":"black","labelPadding":7,"labelFlush":false,"labelOverlap":false,"labelOffset":{"condition":[{"test":"datum.value==0","value":6},{"test":"datum.value>0.3 && datum.value<0.8","value":-4}],"value":0},"titleFont":"Liberation Serif","titleFontSize":25,"titleFontWeight":"normal","titleColor":"black","titlePadding":10}}}}
]}
],
"resolve":{"scale":{"x":"independent","y":"independent"}}
}
